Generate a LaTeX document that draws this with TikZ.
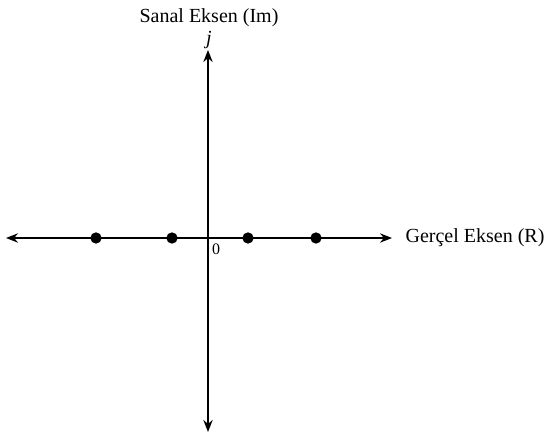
\documentclass[tikz,border=0pt]{standalone}
\usepackage{fontspec}
\setmainfont{Liberation Serif}
\usetikzlibrary{arrows.meta,positioning}
\tikzset{
  axis/.style={line width=1.5pt,{Stealth[length=9pt,width=7pt]}-{Stealth[length=9pt,width=7pt]}},
  pole/.style={circle,fill=black,inner sep=0pt,minimum size=8.5pt},
  label/.style={font=\fontsize{15}{17}\selectfont,inner sep=1pt}
}
\begin{document}
\begin{tikzpicture}[x=0.75pt,y=-0.75pt]
  \useasboundingbox (0,0) rectangle (547,436);
  % eksenler
  \coordinate (west) at (6,238);
  \coordinate (east) at (392,238);
  \coordinate (north) at (208,50);
  \coordinate (south) at (208,432);
  \draw[axis] (west) -- (east);
  \draw[axis] (south) -- (north);
  \node[label,right] (re) at (404,238) {Gerçel Eksen (R)};
  \node[label,font=\fontsize{15}{17}\selectfont\itshape] (jj) at (209,40) {j};
  \node[label,above=1pt of jj] (im) {Sanal Eksen (Im)};
  \node[label,font=\fontsize{12}{14}\selectfont] (zero) at (216,249) {0};
  % kutuplar
  \node[pole] (p1) at (96,238) {};
  \node[pole] (p2) at (172,238) {};
  \node[pole] (p3) at (248,238) {};
  \node[pole] (p4) at (316,238) {};
\end{tikzpicture}
\end{document}
